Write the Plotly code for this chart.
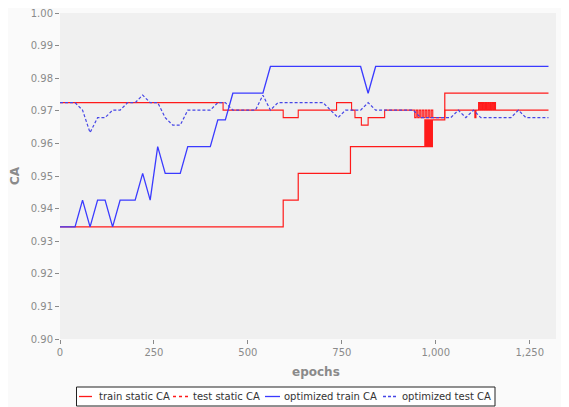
import plotly.graph_objects as go

# ---------------- data ----------------
# static model: step series (epoch where the value changes, new value)
train_static_epochs = [0, 594, 634, 773,
                       971, 972, 973, 974, 975, 976, 977, 978, 979, 980, 981,
                       982, 983, 984, 985, 986, 987, 988, 989, 990, 991, 992,
                       1024, 1300]
train_static_ca = [0.9344, 0.9426, 0.9508, 0.9590,
                   0.9672, 0.9590, 0.9672, 0.9590, 0.9672, 0.9590, 0.9672, 0.9590, 0.9672, 0.9590, 0.9672,
                   0.9590, 0.9672, 0.9590, 0.9672, 0.9590, 0.9672, 0.9590, 0.9672, 0.9590, 0.9672, 0.9672,
                   0.9754, 0.9754]

test_static_epochs = [0, 434, 594, 634, 736, 776, 785, 802, 820, 864,
                      944, 948, 952, 956, 960, 964, 968, 972, 976, 980, 984, 988, 992,
                      1024, 1104, 1107,
                      1114, 1117, 1120, 1123, 1126, 1129, 1132, 1135, 1138, 1141, 1144,
                      1147, 1150, 1153, 1156, 1159,
                      1300]
test_static_ca = [0.9725, 0.9702, 0.9679, 0.9702, 0.9725, 0.9702, 0.9679, 0.9656, 0.9679, 0.9702,
                  0.9679, 0.9702, 0.9679, 0.9702, 0.9679, 0.9702, 0.9679, 0.9702, 0.9679, 0.9702,
                  0.9679, 0.9702, 0.9679,
                  0.9702, 0.9679, 0.9702,
                  0.9725, 0.9702, 0.9725, 0.9702, 0.9725, 0.9702, 0.9725, 0.9702, 0.9725, 0.9702, 0.9725,
                  0.9702, 0.9725, 0.9702, 0.9725, 0.9702,
                  0.9702]

# optimized model: sampled every 20 epochs
opt_epochs = [0, 20, 40, 60, 80, 100, 120, 140, 160, 180, 200, 220, 240, 260, 280, 300,
              320, 340, 360, 380, 400, 420, 440, 460, 480, 500, 520, 540, 560, 580, 600,
              620, 640, 660, 680, 700, 720, 740, 760, 780, 800, 820, 840, 860, 880, 900,
              920, 940, 960, 980, 1000, 1020, 1040, 1060, 1080, 1100, 1120, 1140, 1160,
              1180, 1200, 1220, 1240, 1260, 1280, 1300]
opt_train_ca = [0.9344, 0.9344, 0.9344, 0.9426, 0.9344, 0.9426, 0.9426, 0.9344, 0.9426, 0.9426,
                0.9426, 0.9508, 0.9426, 0.9590, 0.9508, 0.9508, 0.9508, 0.9590, 0.9590, 0.9590,
                0.9590, 0.9672, 0.9672, 0.9754, 0.9754, 0.9754, 0.9754, 0.9754, 0.9836, 0.9836,
                0.9836, 0.9836, 0.9836, 0.9836, 0.9836, 0.9836, 0.9836, 0.9836, 0.9836, 0.9836,
                0.9836, 0.9754, 0.9836, 0.9836, 0.9836, 0.9836, 0.9836, 0.9836, 0.9836, 0.9836,
                0.9836, 0.9836, 0.9836, 0.9836, 0.9836, 0.9836, 0.9836, 0.9836, 0.9836, 0.9836,
                0.9836, 0.9836, 0.9836, 0.9836, 0.9836, 0.9836]
opt_test_ca = [0.9725, 0.9725, 0.9725, 0.9702, 0.9633, 0.9679, 0.9679, 0.9702, 0.9702, 0.9725,
               0.9725, 0.9748, 0.9725, 0.9725, 0.9679, 0.9656, 0.9656, 0.9702, 0.9702, 0.9702,
               0.9702, 0.9725, 0.9725, 0.9702, 0.9702, 0.9702, 0.9702, 0.9748, 0.9702, 0.9725,
               0.9725, 0.9725, 0.9725, 0.9725, 0.9725, 0.9725, 0.9702, 0.9679, 0.9702, 0.9702,
               0.9702, 0.9725, 0.9702, 0.9702, 0.9702, 0.9702, 0.9702, 0.9702, 0.9679, 0.9679,
               0.9679, 0.9679, 0.9679, 0.9702, 0.9679, 0.9702, 0.9679, 0.9679, 0.9679, 0.9679,
               0.9679, 0.9702, 0.9679, 0.9679, 0.9679, 0.9679]

series_names = ["train static CA", "test static CA", "optimized train CA", "optimized test CA"]
x_ticks = [0, 250, 500, 750, 1000, 1250]
x_tick_labels = ["0", "250", "500", "750", "1,000", "1,250"]
y_ticks = [0.90, 0.91, 0.92, 0.93, 0.94, 0.95, 0.96, 0.97, 0.98, 0.99, 1.00]

# ---------------- styles ----------------
RED = "#ff1a1a"
BLUE = "#3a3aff"
BLUE_D = "#4646e6"
GREY = "#8a8a8a"
FONT = "DejaVu Sans"

# the page body adds an 8px offset; figure sized to fill the rest of the window
W, H = 561, 399
L, R, T, B = 52, 13, 5, 68
pw, ph = W - L - R, H - T - B   # 496 x 326


def px_x(p):  # page pixel -> paper x
    return (p - 60) / pw


def px_y(p):  # page pixel -> paper y
    return (339 - p) / ph


fig = go.Figure()
fig.add_trace(go.Scatter(x=train_static_epochs, y=train_static_ca, mode="lines",
                         line=dict(color=RED, width=1.2, shape="hv"),
                         name=series_names[0], showlegend=False))
fig.add_trace(go.Scatter(x=test_static_epochs, y=test_static_ca, mode="lines",
                         line=dict(color=RED, width=1.1, shape="hv"),
                         name=series_names[1], showlegend=False))
fig.add_trace(go.Scatter(x=opt_epochs, y=opt_train_ca, mode="lines",
                         line=dict(color=BLUE, width=1.3),
                         name=series_names[2], showlegend=False))
fig.add_trace(go.Scatter(x=opt_epochs, y=opt_test_ca, mode="lines",
                         line=dict(color=BLUE_D, width=1.2, dash="3px,2px"),
                         name=series_names[3], showlegend=False))

# ---- hand-built legend (compact, as in the reference) ----
box_x0, box_x1, box_y0, box_y1 = 76.5, 495, 387, 406
shapes = [dict(type="rect", xref="paper", yref="paper",
               x0=px_x(box_x0), x1=px_x(box_x1), y0=px_y(box_y1), y1=px_y(box_y0),
               line=dict(color="#222222", width=1), fillcolor="white", layer="above")]
leg_y = 396.5
items = [
    (79, 92, RED, "solid", 98),
    (173, 188, RED, "dot", 192),
    (265, 280, BLUE, "solid", 283),
    (383, 398, BLUE_D, "3px,2px", 401),
]
annotations = []
for (lx0, lx1, col, dash, tx), name in zip(items, series_names):
    shapes.append(dict(type="line", xref="paper", yref="paper",
                       x0=px_x(lx0), x1=px_x(lx1), y0=px_y(leg_y), y1=px_y(leg_y),
                       line=dict(color=col, width=1.3, dash=dash), layer="above"))
    annotations.append(dict(xref="paper", yref="paper", x=px_x(tx), y=px_y(leg_y),
                            xanchor="left", yanchor="middle", text=name, showarrow=False,
                            font=dict(family=FONT, size=10, color="#333333"), borderpad=0))

# x-axis title placed where the reference has it
annotations.append(dict(xref="paper", yref="paper", x=px_x(316), y=px_y(372),
                        xanchor="center", yanchor="middle", text="<b>epochs</b>",
                        showarrow=False, font=dict(family=FONT, size=12, color=GREY)))

fig.update_layout(
    width=W, height=H,
    margin=dict(l=L, r=R, t=T, b=B, pad=0, autoexpand=False),
    paper_bgcolor="#fafafa",
    plot_bgcolor="#f0f0f0",
    showlegend=False,
    shapes=shapes,
    annotations=annotations,
    xaxis=dict(range=[0, 1320], tickvals=x_ticks, ticktext=x_tick_labels,
               automargin=False, ticklabeloverflow="allow",
               showgrid=False, zeroline=False, showline=False,
               ticks="outside", ticklen=4, tickcolor=GREY, tickwidth=1,
               tickfont=dict(family=FONT, size=10, color=GREY)),
    yaxis=dict(range=[0.90, 1.00], tickvals=y_ticks, tickformat=".2f",
               automargin=False, ticklabeloverflow="allow",
               showgrid=False, zeroline=False, showline=False,
               ticks="outside", ticklen=4, tickcolor=GREY, tickwidth=1,
               tickfont=dict(family=FONT, size=10, color=GREY),
               title=dict(text="<b>CA</b>", standoff=10,
                          font=dict(family=FONT, size=12, color=GREY))),
)

fig.write_html("out.html")
